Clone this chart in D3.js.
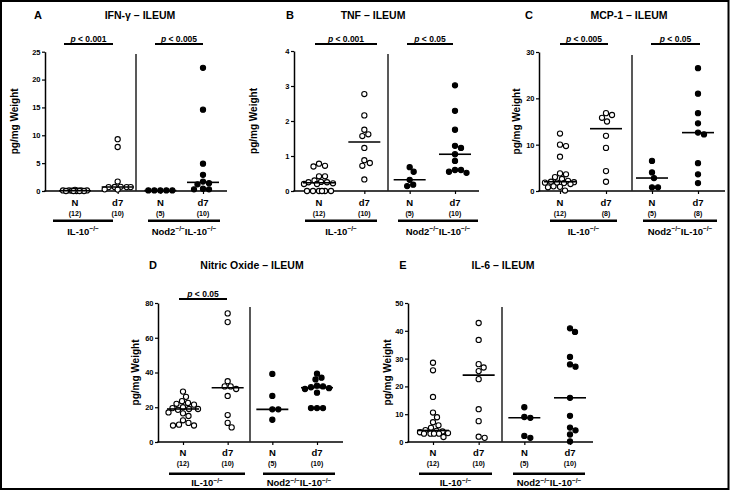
<!DOCTYPE html>
<html><head><meta charset="utf-8">
<script src="https://cdn.jsdelivr.net/npm/d3@7"></script>
<style>
body{margin:0;background:#fff;}
svg{display:block;font-family:"Liberation Sans",Arial,sans-serif;font-weight:bold;}
</style></head><body>
<svg id="chart" width="733" height="498"></svg>
<script>
// ---------- DATA ----------
const categories = ["N", "d7", "N", "d7"];
const strains = ["IL-10", "Nod2"];

const ifngIL10N  = [0.2, 0.1, 0.1, 0.1, 0.1, 0.05, 0.05, 0, 0, 0, 0, 0];
const ifngIL10d7 = [9.3, 7.9, 1.7, 0.75, 0.72, 0.7, 0.7, 0.7, 0.3, 0.25];
const ifngNodN   = [0.1, 0.1, 0.1, 0.1, 0.1];
const ifngNodd7  = [22.1, 14.6, 4.9, 2.9, 1.7, 1.4, 1.2, 0.4, 0.3, 0.3];

const tnfIL10N  = [0.78, 0.72, 0.70, 0.42, 0.42, 0.30, 0.26, 0.25, 0.25, 0.22, 0.2, 0.2, 0, 0, 0, 0, 0, 0];
const tnfIL10d7 = [2.77, 2.16, 1.75, 1.62, 1.57, 1.23, 0.88, 0.80, 0.72, 0.33];
const tnfNodN   = [0.68, 0.55, 0.32, 0.18, 0.14];
const tnfNodd7  = [3.02, 2.29, 1.75, 1.29, 1.23, 1.05, 0.86, 0.60, 0.60, 0.55, 0.52];

const mcpIL10N  = [12.4, 10.0, 9.7, 7.4, 3.8, 3.6, 3.0, 2.6, 2.2, 2.0, 1.9, 1.8, 1.8, 1.7, 1.5, 1.0, 0.9, 0.8, 0.1];
const mcpIL10d7 = [16.8, 16.4, 15.8, 15.0, 11.9, 9.3, 4.3, 2.0];
const mcpNodN   = [6.5, 4.0, 2.8, 0.8, 0.8];
const mcpNodd7  = [26.5, 21.0, 16.8, 14.6, 12.6, 12.2, 6.0, 3.6, 1.7];

const noIL10N  = [29, 26, 23.5, 22.5, 22, 21.5, 20, 19.5, 19, 19, 18.5, 17, 16.5, 15, 12.5, 11, 10, 9.5, 9.5];
const noIL10d7 = [74, 69, 35, 32, 32, 30.5, 26.5, 15.5, 11, 8.4];
const noNodN   = [39.2, 26.5, 18.8, 18.8, 12.8];
const noNodd7  = [39.3, 37, 36, 32.5, 32, 31.5, 31, 30.5, 28.4, 19.5, 19.5, 19.5];

const il6IL10N  = [28.5, 25.8, 16.2, 10.6, 8.9, 7.1, 6.0, 5.1, 4.3, 4.0, 3.8, 3.5, 3.2, 3.0, 3.0, 3.0, 3.0, 1.8];
const il6IL10d7 = [42.8, 36.7, 28.0, 26.8, 25.5, 22.6, 11.8, 7.5, 1.9, 1.5];
const il6NodN   = [12.5, 9.0, 8.7, 2.2, 1.5];
const il6Nodd7  = [40.9, 39.6, 30.6, 27.9, 27.1, 15.9, 9.4, 5.2, 4.2, 2.7, 0.2];

const ticksA = [0, 5, 10, 15, 20, 25];
const ticksB = [0, 1, 2, 3, 4];
const ticksC = [0, 10, 20, 30];
const ticksD = [0, 20, 40, 60, 80];
const ticksE = [0, 10, 20, 30, 40, 50];

const countsA = ["(12)", "(10)", "(5)", "(10)"];
const countsB = ["(12)", "(10)", "(5)", "(10)"];
const countsC = ["(12)", "(8)", "(5)", "(8)"];
const countsD = ["(12)", "(10)", "(5)", "(10)"];
const countsE = ["(12)", "(10)", "(5)", "(10)"];

const pA = ["< 0.001", "< 0.005"];
const pB = ["< 0.001", "< 0.05"];
const pC = ["< 0.005", "< 0.05"];
const pD = ["< 0.05"];
const pE = [];

// ---------- LAYOUT ----------
const panels = [
  {id:"A", title:"IFN-\u03b3 \u2013 ILEUM", data:[ifngIL10N, ifngIL10d7, ifngNodN, ifngNodd7], ticks:ticksA, counts:countsA, pvals:pA,
   L:{ax:45, y0:191, yTop:51.7, xEnd:227, c0:75, c1:203, div:136, divTop:54, letter:38, titleX:140, titleY:19, ylabX:18,
      pBars:[[64,113],[155,203]], pY:44, gl:[[53,113],[148,220]], catY:206, cntY:215.5, glY:220.7, gY:234.5, maxW:13}},
  {id:"B", title:"TNF \u2013 ILEUM", data:[tnfIL10N, tnfIL10d7, tnfNodN, tnfNodd7], ticks:ticksB, counts:countsB, pvals:pB,
   L:{ax:294, y0:191, yTop:51, xEnd:479, c0:319, c1:455, div:388, divTop:54, letter:290, titleX:373, titleY:19, ylabX:256.5,
      pBars:[[315,377],[407,453]], pY:44, gl:[[305,377],[398,478]], catY:206, cntY:215.5, glY:220.7, gY:234.5, maxW:15}},
  {id:"C", title:"MCP-1 \u2013 ILEUM", data:[mcpIL10N, mcpIL10d7, mcpNodN, mcpNodd7], ticks:ticksC, counts:countsC, pvals:pC,
   L:{ax:539, y0:191, yTop:52, xEnd:725, c0:560, c1:698, div:632, divTop:55, letter:529, titleX:629, titleY:19, ylabX:519.5,
      pBars:[[560,608],[651,700]], pY:44, gl:[[550,617],[643,717]], catY:206, cntY:215.5, glY:220.7, gY:234.5, maxW:15}},
  {id:"D", title:"Nitric Oxide \u2013 ILEUM", data:[noIL10N, noIL10d7, noNodN, noNodd7], ticks:ticksD, counts:countsD, pvals:pD,
   L:{ax:158, y0:442, yTop:303, xEnd:343, c0:183, c1:317, div:250, divTop:307, letter:153, titleX:252, titleY:269, ylabX:139,
      pBars:[[179,227]], pY:299, gl:[[169,245],[263,335]], catY:456, cntY:465.5, glY:473.8, gY:486, maxW:15}},
  {id:"E", title:"IL-6 \u2013 ILEUM", data:[il6IL10N, il6IL10d7, il6NodN, il6Nodd7], ticks:ticksE, counts:countsE, pvals:pE,
   L:{ax:408, y0:442, yTop:303, xEnd:593, c0:433, c1:570, div:502, divTop:307, letter:403, titleX:503, titleY:269, ylabX:390.5,
      pBars:[], pY:299, gl:[[419,492],[513,585]], catY:456, cntY:465.5, glY:473.8, gY:486, maxW:15}}
];

const FONT = '"Liberation Sans", Arial, sans-serif';
const R = 2.6;

function swarm(values, y, r, maxW) {
  const pts = values.map(v => ({v, y: y(v), dx: 0}));
  const order = pts.slice().sort((a, b) => a.y - b.y);
  const placed = [];
  const d = 2 * r + 0.7;
  for (const p of order) {
    let chosen = null, bestScore = -1, bestOff = 0;
    for (let k = 0; k <= maxW * 4; k++) {
      const off = (k % 2 === 1 ? 1 : -1) * Math.ceil(k / 2) * 0.5;
      if (Math.abs(off) > maxW) continue;
      let minD = Infinity;
      for (const q of placed) {
        const dd = Math.hypot(q.dx - off, q.y - p.y);
        if (dd < minD) minD = dd;
      }
      if (minD >= d) { chosen = off; break; }
      if (minD > bestScore) { bestScore = minD; bestOff = off; }
    }
    p.dx = chosen !== null ? chosen : bestOff;
    placed.push(p);
  }
  return pts;
}

function strainLabel(sel, which) {
  const sup = t => sel.append("tspan").attr("font-size", 6.5).attr("dy", -3.5).text(t);
  if (which === 0) {
    sel.append("tspan").text("IL-10");
    sup("\u2212/\u2212");
  } else {
    sel.append("tspan").text("Nod2");
    sup("\u2212/\u2212");
    sel.append("tspan").attr("dy", 3.5).text("IL-10");
    sup("\u2212/\u2212");
  }
}

const svg = d3.select("#chart");
svg.append("rect").attr("x", 1).attr("y", 1).attr("width", 727.5).attr("height", 488)
  .attr("fill", "none").attr("stroke", "#000").attr("stroke-width", 2);

panels.forEach(p => {
  const L = p.L;
  const g = svg.append("g");
  const y = d3.scaleLinear().domain([0, p.ticks[p.ticks.length - 1]]).range([L.y0, L.yTop]);
  const x = d3.scalePoint().domain(d3.range(categories.length)).range([L.c0, L.c1]);

  // letter + title
  g.append("text").attr("x", L.letter).attr("y", L.titleY).attr("text-anchor", "middle")
    .attr("font-size", 11).attr("font-weight", "bold").text(p.id);
  g.append("text").attr("x", L.titleX).attr("y", L.titleY).attr("text-anchor", "middle")
    .attr("font-size", 10.5).attr("font-weight", "bold").text(p.title);

  // y axis
  const ya = g.append("g").attr("transform", `translate(${L.ax},0)`)
    .call(d3.axisLeft(y).tickValues(p.ticks).tickFormat(d3.format("~g")).tickSize(3).tickSizeOuter(0).tickPadding(1.5));
  ya.attr("font-family", FONT).attr("font-size", 7.5).attr("font-weight", "bold");
  ya.select(".domain").attr("stroke-width", 1.5);
  ya.selectAll(".tick line").attr("stroke-width", 1.2);

  // y label
  g.append("text").attr("transform", `translate(${L.ylabX},${(L.y0 + L.yTop) / 2}) rotate(-90)`)
    .attr("text-anchor", "middle").attr("font-size", 10).attr("font-weight", "bold").text("pg/mg Weight");

  // x axis line + category ticks
  g.append("line").attr("x1", L.ax - 0.75).attr("x2", L.xEnd).attr("y1", L.y0).attr("y2", L.y0)
    .attr("stroke", "#000").attr("stroke-width", 1.5);
  const xa = g.append("g").attr("transform", `translate(0,${L.y0})`)
    .call(d3.axisBottom(x).tickSize(3).tickSizeOuter(0).tickFormat(""));
  xa.select(".domain").remove();
  xa.selectAll(".tick line").attr("stroke-width", 1.2);

  // divider
  g.append("line").attr("x1", L.div).attr("x2", L.div).attr("y1", L.divTop).attr("y2", L.y0)
    .attr("stroke", "#222").attr("stroke-width", 1.5);

  // points + medians
  p.data.forEach((vals, i) => {
    const cx = x(i);
    const filled = i >= 2;
    const pts = swarm(vals, y, R, L.maxW);
    g.append("g").selectAll("circle").data(pts).join("circle")
      .attr("cx", d => cx + d.dx).attr("cy", d => d.y).attr("r", R)
      .attr("fill", filled ? "#000" : "#fff").attr("stroke", "#000").attr("stroke-width", 1.1);
    const m = d3.median(vals);
    g.append("line").attr("x1", cx - 16).attr("x2", cx + 16).attr("y1", y(m)).attr("y2", y(m))
      .attr("stroke", "#000").attr("stroke-width", 1.6);
  });

  // category labels
  categories.forEach((c, i) => {
    g.append("text").attr("x", x(i)).attr("y", L.catY).attr("text-anchor", "middle")
      .attr("font-size", 9.5).attr("font-weight", "bold").text(c);
    g.append("text").attr("x", x(i)).attr("y", L.cntY).attr("text-anchor", "middle")
      .attr("font-size", 7).attr("font-weight", "bold").text(p.counts[i]);
  });

  // group lines + labels
  L.gl.forEach((seg, i) => {
    g.append("line").attr("x1", seg[0]).attr("x2", seg[1]).attr("y1", L.glY).attr("y2", L.glY)
      .attr("stroke", "#000").attr("stroke-width", 2.5);
    const t = g.append("text").attr("x", (seg[0] + seg[1]) / 2).attr("y", L.gY).attr("text-anchor", "middle")
      .attr("font-size", 9.5).attr("font-weight", "bold");
    strainLabel(t, i);
  });

  // p value bars
  p.pvals.forEach((pv, i) => {
    const seg = L.pBars[i];
    g.append("line").attr("x1", seg[0]).attr("x2", seg[1]).attr("y1", L.pY).attr("y2", L.pY)
      .attr("stroke", "#000").attr("stroke-width", 2);
    const t = g.append("text").attr("x", (seg[0] + seg[1]) / 2).attr("y", L.pY - 2.5)
      .attr("text-anchor", "middle").attr("font-size", 8.5).attr("font-weight", "bold");
    t.append("tspan").attr("font-style", "italic").text("p");
    t.append("tspan").text(" " + pv);
  });
});
</script>
</body></html>
